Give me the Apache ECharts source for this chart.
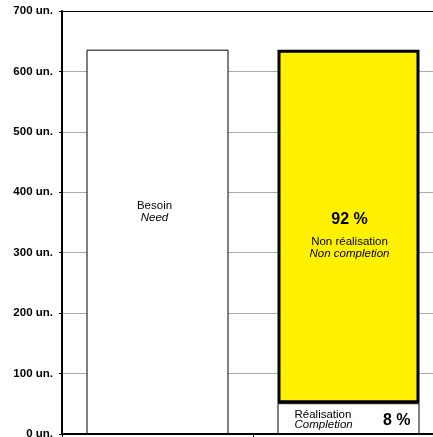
<!DOCTYPE html>
<html>
<head>
<meta charset="utf-8">
<script src="https://cdn.jsdelivr.net/npm/echarts@6/dist/echarts.min.js"></script>
<style>html,body{margin:0;padding:0;background:#fff}#c{width:433px;height:437px}</style>
</head>
<body>
<div id="c"></div>
<script>
const categories = ['Besoin', 'Réalisation'];
const besoin = [636, '-'];
const realisation = ['-', 51];
const nonRealisation = ['-', 585];
const yTicks = [0, 100, 200, 300, 400, 500, 600, 700];
const pctRealisation = '8 %';
const pctNonRealisation = '92 %';

const FONT = "Arial, 'Liberation Sans', Helvetica, sans-serif";
const SMALL = 11.5;
const chart = echarts.init(document.getElementById('c'), null, {renderer: 'canvas'});
chart.setOption({
  animation: false,
  backgroundColor: '#fff',
  grid: {left: 62, top: 11, width: 382, height: 423, containLabel: false, outerBoundsMode: 'none'},
  xAxis: {
    type: 'category',
    data: categories,
    axisLine: {lineStyle: {color: '#000', width: 2}},
    axisTick: {show: true, length: 3, lineStyle: {color: '#000', width: 1}},
    axisLabel: {show: false},
    splitLine: {show: false}
  },
  yAxis: {
    type: 'value',
    min: yTicks[0],
    max: yTicks[yTicks.length - 1],
    interval: 100,
    axisLine: {show: true, lineStyle: {color: '#000', width: 2}},
    axisTick: {show: true, length: 3, lineStyle: {color: '#000', width: 1}},
    axisLabel: {
      margin: 9,
      fontFamily: FONT, fontSize: 11.5, fontWeight: 'bold', color: '#000',
      formatter: v => v + ' un.'
    },
    splitLine: {show: true, lineStyle: {width: 1,
      color: ['#aaa', '#aaa', '#aaa', '#aaa', '#aaa', '#aaa', '#aaa', '#000']}}
  },
  series: [
    {
      name: 'Besoin', type: 'bar', stack: 'a', barWidth: 142, barGap: '-100%',
      data: besoin,
      itemStyle: {color: '#fff', borderColor: '#000', borderWidth: 1},
      label: {
        show: true, position: 'inside', offset: [-3, -30],
        fontFamily: FONT, fontSize: SMALL, color: '#000', lineHeight: 12.5,
        formatter: '{n|Besoin}\n{i|Need}',
        rich: {
          n: {fontFamily: FONT, fontSize: SMALL, color: '#000', lineHeight: 12.5, align: 'center'},
          i: {fontFamily: FONT, fontSize: SMALL, fontStyle: 'italic', color: '#000', lineHeight: 12.5, align: 'center'}
        }
      }
    },
    {
      name: 'Réalisation', type: 'bar', stack: 'a', barWidth: 142,
      data: realisation,
      itemStyle: {color: '#fff', borderColor: '#000', borderWidth: 1},
      label: {
        show: true, position: 'insideLeft', distance: 17, offset: [0, 1],
        fontFamily: FONT, fontSize: SMALL, color: '#000', lineHeight: 10.5,
        formatter: '{n|Réalisation}\n{i|Completion}',
        rich: {
          n: {fontFamily: FONT, fontSize: SMALL, color: '#000', lineHeight: 10.5},
          i: {fontFamily: FONT, fontSize: SMALL, fontStyle: 'italic', color: '#000', lineHeight: 10.5}
        }
      }
    },
    {
      name: 'Non réalisation', type: 'bar', stack: 'a', barWidth: 142,
      data: nonRealisation,
      itemStyle: {color: '#FFF100', borderColor: '#000', borderWidth: 3},
      label: {
        show: true, position: 'inside', offset: [1, 8],
        fontFamily: FONT, fontSize: SMALL, color: '#000', lineHeight: 11.5,
        formatter: '{b|' + pctNonRealisation + '}\n{s| }\n{n|Non réalisation}\n{i|Non completion}',
        rich: {
          b: {fontFamily: FONT, fontSize: 16, fontWeight: 'bold', color: '#000', lineHeight: 20, align: 'center'},
          s: {fontSize: 4, lineHeight: 7, align: 'center'},
          n: {fontFamily: FONT, fontSize: SMALL, color: '#000', lineHeight: 11.5, align: 'center'},
          i: {fontFamily: FONT, fontSize: SMALL, fontStyle: 'italic', color: '#000', lineHeight: 11.5, align: 'center'}
        }
      }
    },
    {
      name: 'pct', type: 'bar', barWidth: 142,
      data: realisation,
      itemStyle: {color: 'rgba(0,0,0,0)', borderWidth: 0},
      label: {
        show: true, position: 'insideRight', distance: 9, offset: [0, 2],
        fontFamily: FONT, fontSize: 16, fontWeight: 'bold', color: '#000',
        formatter: pctRealisation
      }
    }
  ]
});
</script>
</body>
</html>
